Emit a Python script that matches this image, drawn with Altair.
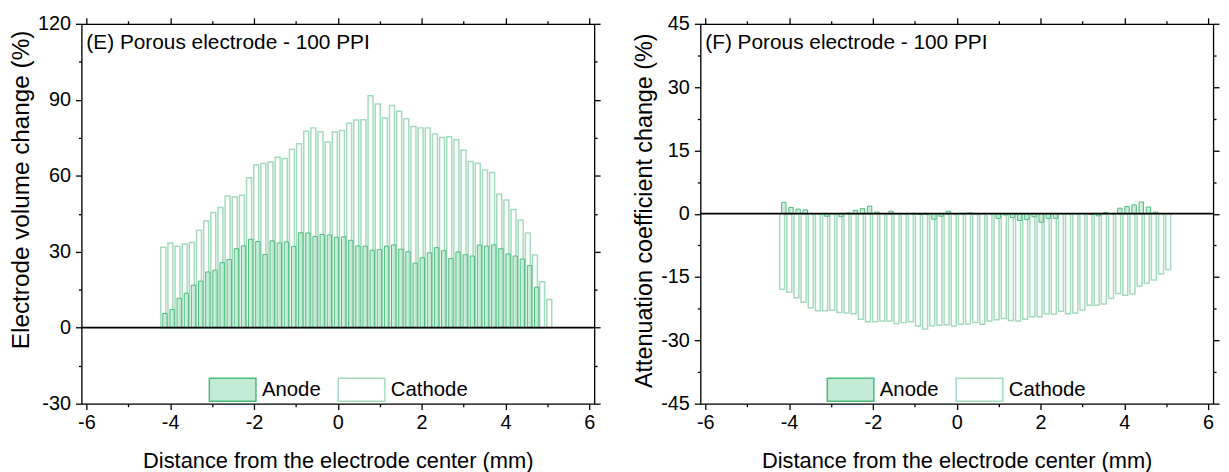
import altair as alt
import pandas as pd

# Bar centre positions (mm from electrode centre)
x_mm = [-4.165, -3.994, -3.824, -3.653, -3.483, -3.312, -3.141, -2.971, -2.800, -2.630,
        -2.459, -2.288, -2.118, -1.947, -1.777, -1.606, -1.435, -1.265, -1.094, -0.924,
        -0.753, -0.582, -0.412, -0.241, -0.071, 0.100, 0.271, 0.441, 0.612, 0.782,
        0.953, 1.124, 1.294, 1.465, 1.635, 1.806, 1.977, 2.147, 2.318, 2.488,
        2.659, 2.830, 3.000, 3.171, 3.341, 3.512, 3.683, 3.853, 4.024, 4.194,
        4.365, 4.536, 4.706, 4.877, 5.047]

# (E) Electrode volume change (%)
e_cathode = [31.8, 33.4, 32.2, 33.0, 33.6, 38.5, 42.1, 45.5, 47.5, 52.0,
             51.6, 52.3, 59.2, 64.3, 64.8, 65.4, 67.3, 66.8, 70.5, 72.6,
             77.6, 78.9, 77.4, 73.3, 77.3, 77.9, 80.7, 82.0, 82.1, 91.6,
             88.3, 82.8, 87.7, 85.5, 82.5, 79.4, 78.9, 78.9, 76.5, 75.1,
             75.4, 74.2, 70.1, 65.6, 64.9, 62.3, 61.3, 52.7, 50.4, 46.7,
             42.5, 37.4, 28.7, 18.1, 11.1]
e_anode = [5.6, 7.2, 11.6, 13.6, 16.8, 18.4, 22.0, 22.7, 25.7, 26.9,
           31.2, 32.3, 34.9, 34.0, 28.9, 34.3, 33.5, 33.9, 32.1, 37.5,
           37.4, 36.0, 36.8, 36.6, 35.7, 35.9, 34.5, 32.3, 32.2, 30.6,
           30.9, 32.2, 32.7, 31.0, 30.0, 25.5, 27.6, 29.6, 31.6, 30.4,
           27.3, 29.9, 28.8, 28.3, 32.6, 32.2, 32.7, 31.2, 29.1, 28.3,
           27.1, 24.5, 16.0]

# (F) Attenuation coefficient change (%)
f_cathode = [-17.9, -18.6, -19.9, -21.0, -22.3, -23.0, -23.0, -22.8, -23.4, -23.5,
             -23.7, -25.0, -25.6, -25.6, -25.4, -25.4, -26.0, -25.8, -25.6, -26.6,
             -27.3, -26.6, -26.4, -26.3, -26.6, -26.2, -26.1, -25.8, -26.2, -25.4,
             -25.1, -24.8, -25.3, -25.4, -25.0, -24.4, -24.4, -23.7, -23.8, -23.1,
             -23.7, -23.5, -22.8, -21.7, -21.7, -21.4, -20.1, -18.9, -19.3, -19.0,
             -17.1, -16.5, -15.7, -14.3, -13.2]
f_anode = [2.7, 1.5, 1.1, 0.9, 0.0, 0.0, -0.6, 0.0, -0.7, 0.2,
           0.8, 1.2, 1.8, 0.4, 0.0, 0.6, 0.0, 0.0, 0.0, -0.2,
           -0.2, -1.3, -0.6, 0.6, 0.0, 0.0, 0.2, 0.0, 0.0, 0.0,
           -1.1, -0.3, -0.9, -1.6, -1.4, -0.7, -2.0, -1.1, -1.1, 0.0,
           0.0, 0.0, 0.0, -0.2, -0.5, 0.3, 0.0, 1.3, 1.7, 2.1,
           2.8, 1.6, 0.4]

x_ticks = [-6, -5, -4, -3, -2, -1, 0, 1, 2, 3, 4, 5, 6]
e_y_ticks = [-30, -15, 0, 15, 30, 45, 60, 75, 90, 105, 120]
f_y_ticks = [-45, -37.5, -30, -22.5, -15, -7.5, 0, 7.5, 15, 22.5, 30, 37.5, 45]
series_names = ["Anode", "Cathode"]

FONT = "Liberation Sans"
ANODE_FILL = "#c2ead4"
ANODE_STROKE = "#4dbb7c"
CATHODE_FILL = "#ffffff"
CATHODE_STROKE = "#a4dbbd"
PW, PH = 517, 383


def tick_size(major):
    return {"condition": {"test": f"abs(datum.value % {major}) < 1e-9", "value": 6}, "value": 3}


def lab_expr(major):
    return f"abs(datum.value % {major}) < 1e-9 ? ('' + datum.value) : ''"


def panel(cathode, anode, ydom, yticks, ymajor, ytitle, ytsize, ytitle_y, label, legx):
    dfc = pd.DataFrame({"x": x_mm[:len(cathode)], "v": cathode, "series": "Cathode"})
    dfa = pd.DataFrame({"x": x_mm[:len(anode)], "v": anode, "series": "Anode"})
    dft = pd.DataFrame({"t": [label]})

    xs = alt.Scale(domain=[-6, 6], nice=False, zero=False)
    ys = alt.Scale(domain=ydom, nice=False, zero=False)
    common = dict(domainColor="black", domainWidth=1.3, tickColor="black", tickWidth=1.3,
                  labelFont=FONT, labelFontSize=20, labelColor="black", labelFlush=False,
                  labelOverlap=False, grid=False, titleFont=FONT, titleFontWeight="normal",
                  titleColor="black")
    ax_bottom = alt.Axis(orient="bottom", values=x_ticks, tickSize=tick_size(2),
                         labelExpr=lab_expr(2), labelPadding=3,
                         title="Distance from the electrode center (mm)",
                         titleFontSize=22, titlePadding=18, **common)
    ax_top = alt.Axis(orient="top", values=x_ticks, tickSize=tick_size(2), labels=False,
                      title=None, **common)
    ax_left = alt.Axis(orient="left", values=yticks, tickSize=tick_size(ymajor),
                       labelExpr=lab_expr(ymajor), labelPadding=5, title=ytitle,
                       titleFontSize=ytsize, titlePadding=4, titleY=ytitle_y, **common)
    ax_right = alt.Axis(orient="right", values=yticks, tickSize=tick_size(ymajor), labels=False,
                        title=None, **common)

    legend = alt.Legend(orient="none", legendX=legx, legendY=344, direction="horizontal",
                        title=None, symbolType="M-1,-0.49L1,-0.49L1,0.49L-1,0.49Z",
                        symbolSize=2209, symbolStrokeWidth=1.5, labelFont=FONT,
                        labelFontSize=20.5, labelColor="black", labelOffset=5,
                        columnPadding=14, padding=0)
    fill_s = alt.Scale(domain=series_names, range=[ANODE_FILL, CATHODE_FILL])
    stroke_s = alt.Scale(domain=series_names, range=[ANODE_STROKE, CATHODE_STROKE])

    cath = alt.Chart(dfc).mark_bar(width=5, strokeWidth=1.5).encode(
        x=alt.X("x:Q", scale=xs, axis=ax_bottom),
        y=alt.Y("v:Q", scale=ys, axis=ax_left),
        fill=alt.Fill("series:N", scale=fill_s, legend=legend),
        stroke=alt.Stroke("series:N", scale=stroke_s, legend=legend),
    )
    anod = alt.Chart(dfa).mark_bar(width=4.4, strokeWidth=1, xOffset=1.7, fillOpacity=0.85).encode(
        x=alt.X("x:Q", scale=xs, axis=ax_top),
        y=alt.Y("v:Q", scale=ys, axis=ax_right),
        fill=alt.Fill("series:N", scale=fill_s, legend=legend),
        stroke=alt.Stroke("series:N", scale=stroke_s, legend=legend),
    )
    zero = alt.Chart(dft).mark_rule(color="black", strokeWidth=1.8).encode(
        y=alt.YDatum(datum=0, axis=None),
    )
    txt = alt.Chart(dft).mark_text(align="left", baseline="middle", font=FONT,
                                   fontSize=21, color="black").encode(
        x=alt.value(5), y=alt.value(19), text="t:N",
    )
    return (alt.layer(cath, anod, zero, txt)
            .resolve_scale(x="shared", y="shared")
            .resolve_axis(x="independent", y="independent")
            .properties(width=PW, height=PH))


left = panel(e_cathode, e_anode, [-30, 120], e_y_ticks, 30,
             "Electrode volume change (%)", 24.5, 167, "(E) Porous electrode - 100 PPI", 128)
right = panel(f_cathode, f_anode, [-45, 45], f_y_ticks, 15,
              "Attenuation coefficient change (%)", 23.5, 188, "(F) Porous electrode - 100 PPI", 127)

chart = (alt.hconcat(left, right, spacing=30)
         .resolve_scale(fill="independent", stroke="independent")
         .properties(padding={"left": 0, "top": 3, "right": 0, "bottom": 0})
         .configure_view(stroke=None)
         .configure(font=FONT))

chart.save("out.html", embed_options={"renderer": "svg", "actions": False})
